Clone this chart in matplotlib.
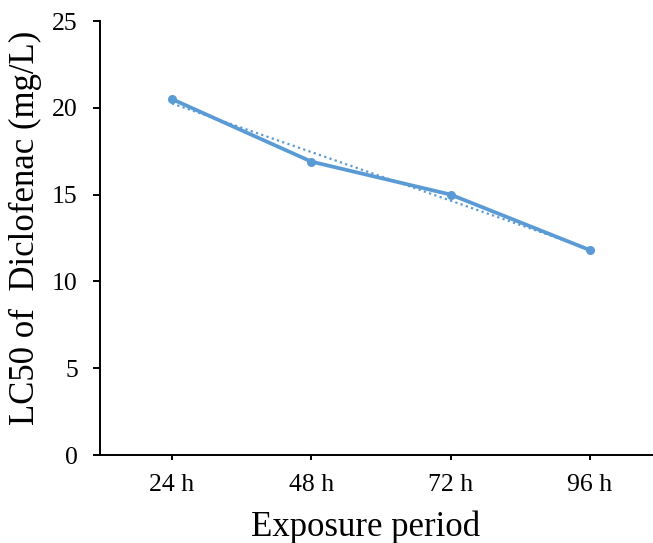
import numpy as np
import matplotlib
matplotlib.use("Agg")
import matplotlib.pyplot as plt

# data
periods = ["24 h", "48 h", "72 h", "96 h"]
lc50 = [20.5, 16.9, 15.0, 11.8]

plt.rcParams['font.family'] = ['Liberation Serif', 'DejaVu Serif']

fig = plt.figure(figsize=(6.53, 5.43), dpi=100)
ax = fig.add_axes([100 / 653, 1 - 455 / 543, 553 / 653, (455 - 21) / 543])

x = np.arange(1, len(periods) + 1)
renk = "#5B9BD5"

# linear trendline (dotted), like the Excel one
egim, kesen = np.polyfit(x, lc50, 1)
ax.plot(x, egim * x + kesen, color=renk, linestyle=(0, (1, 1.5)), linewidth=1.6)

ax.plot(x, lc50, color=renk, linewidth=2.7, marker="o", markersize=5.5)

ax.set_xlim(0.483, 4.452)
ax.set_ylim(0, 25)
ax.set_yticks([0, 5, 10, 15, 20, 25])
ax.set_xticks(x)
ax.set_xticklabels(periods)

for s in ["top", "right"]:
    ax.spines[s].set_visible(False)
for s in ["left", "bottom"]:
    ax.spines[s].set_linewidth(1.4)

ax.tick_params(axis="both", direction="out", width=1.4, labelsize=18.5)
ax.tick_params(axis="x", length=3.5, pad=10.5)
ax.tick_params(axis="y", length=5, pad=11)

ax.set_xlabel("Exposure period", fontsize=25)
ax.set_ylabel("LC50 of  Diclofenac (mg/L)", fontsize=25)
ax.xaxis.set_label_coords(0.481, -0.128)
ax.yaxis.set_label_coords(-0.104, 0.523)

fig.savefig("out.png", dpi=100)
